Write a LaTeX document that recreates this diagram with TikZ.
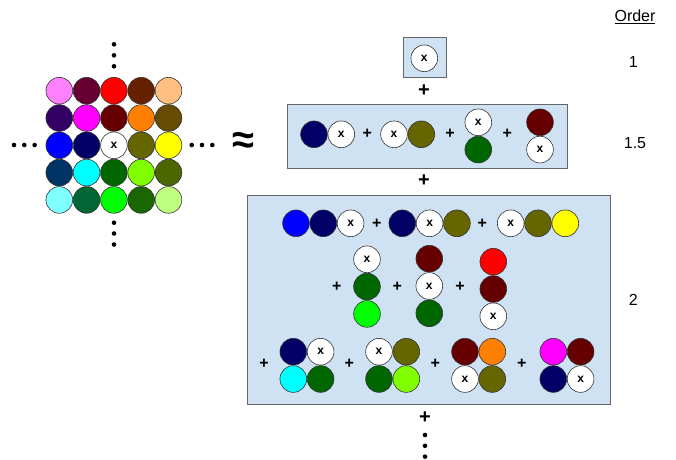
\documentclass[tikz,border=0pt]{standalone}
\usepackage{fontspec}
\setmainfont{Liberation Sans}
\usetikzlibrary{positioning}

\definecolor{bpink}{HTML}{FF80FF}
\definecolor{bplum}{HTML}{660033}
\definecolor{bred}{HTML}{FF0000}
\definecolor{brust}{HTML}{662200}
\definecolor{bpeach}{HTML}{FFBF80}
\definecolor{bindigo}{HTML}{330066}
\definecolor{bmagenta}{HTML}{FF00FF}
\definecolor{bmaroon}{HTML}{660000}
\definecolor{borange}{HTML}{FF8000}
\definecolor{bumber}{HTML}{664C00}
\definecolor{bblue}{HTML}{0000FF}
\definecolor{bnavy}{HTML}{000066}
\definecolor{bolive}{HTML}{666600}
\definecolor{byellow}{HTML}{FFFF00}
\definecolor{bsteel}{HTML}{003366}
\definecolor{bcyan}{HTML}{00FFFF}
\definecolor{bforest}{HTML}{006600}
\definecolor{blime}{HTML}{80FF00}
\definecolor{bmoss}{HTML}{4C6600}
\definecolor{baqua}{HTML}{80FFFF}
\definecolor{bteal}{HTML}{006633}
\definecolor{bgreen}{HTML}{00FF00}
\definecolor{bleaf}{HTML}{1A6600}
\definecolor{bmint}{HTML}{BFFF80}
\definecolor{boxblue}{HTML}{CFE2F3}

\begin{document}
\begin{tikzpicture}[x=1pt, y=-1pt, node distance=27.3pt,
  ball/.style={circle, draw=black!80, line width=0.6pt, minimum size=26.7pt, inner sep=0pt},
  xball/.style={ball, fill=white, font=\fontsize{12}{12}\selectfont\bfseries},
  orderbox/.style={draw=black!60, line width=0.8pt, fill=boxblue, inner sep=0pt},
  plus/.style={font=\fontsize{16}{16}\selectfont\bfseries, inner sep=0pt},
  bigplus/.style={plus, font=\fontsize{20}{20}\selectfont\bfseries},
  dot/.style={circle, fill=black, inner sep=0pt, minimum size=4.6pt},
  order/.style={font=\fontsize{16}{16}\selectfont}]
  \useasboundingbox (0,0) rectangle (676,459);

  % the lattice
  \node (g11) [ball, fill=bpink] at (59.3,90.7) {};
  \node (g12) [ball, fill=bplum, right of=g11] {};
  \node (g13) [ball, fill=bred, right of=g12] {};
  \node (g14) [ball, fill=brust, right of=g13] {};
  \node (g15) [ball, fill=bpeach, right of=g14] {};
  \node (g21) [ball, fill=bindigo, below of=g11] {};
  \node (g22) [ball, fill=bmagenta, right of=g21] {};
  \node (g23) [ball, fill=bmaroon, right of=g22] {};
  \node (g24) [ball, fill=borange, right of=g23] {};
  \node (g25) [ball, fill=bumber, right of=g24] {};
  \node (g31) [ball, fill=bblue, below of=g21] {};
  \node (g32) [ball, fill=bnavy, right of=g31] {};
  \node (g33) [xball, right of=g32] {x};
  \node (g34) [ball, fill=bolive, right of=g33] {};
  \node (g35) [ball, fill=byellow, right of=g34] {};
  \node (g41) [ball, fill=bsteel, below of=g31] {};
  \node (g42) [ball, fill=bcyan, right of=g41] {};
  \node (g43) [ball, fill=bforest, right of=g42] {};
  \node (g44) [ball, fill=blime, right of=g43] {};
  \node (g45) [ball, fill=bmoss, right of=g44] {};
  \node (g51) [ball, fill=baqua, below of=g41] {};
  \node (g52) [ball, fill=bteal, right of=g51] {};
  \node (g53) [ball, fill=bgreen, right of=g52] {};
  \node (g54) [ball, fill=bleaf, right of=g53] {};
  \node (g55) [ball, fill=bmint, right of=g54] {};

  \node (up1) [dot] at (114,44.3) {};
  \node (up2) [dot] at (114,55.3) {};
  \node (up3) [dot] at (114,66.3) {};
  \node (dn1) [dot] at (114,222.7) {};
  \node (dn2) [dot] at (114,233.5) {};
  \node (dn3) [dot] at (114,244.5) {};
  \node (lf1) [dot] at (14,145) {};
  \node (lf2) [dot] at (24.3,145) {};
  \node (lf3) [dot] at (34.6,145) {};
  \node (rt1) [dot] at (191.7,145) {};
  \node (rt2) [dot] at (202,145) {};
  \node (rt3) [dot] at (212.3,145) {};

  \node (approx) [font=\fontsize{40}{40}\selectfont\bfseries] at (243,143) {≈};

  % order 1
  \node (box1) [orderbox, minimum width=42.7pt, minimum height=40pt] at (424.7,57.3) {};
  \node (o1) [xball] at (424.3,58.3) {x};
  \node (p1) [bigplus] at (424,91) {+};

  % order 1.5
  \node (box15) [orderbox, minimum width=280pt, minimum height=64pt] at (427.3,136.3) {};
  \node (h1) [ball, fill=bnavy] at (314,134.3) {};
  \node (h2) [xball, right of=h1] {x};
  \node (hp1) [plus] at (367.3,134.3) {+};
  \node (h3) [xball] at (394,134.3) {x};
  \node (h4) [ball, fill=bolive, right of=h3] {};
  \node (hp2) [plus] at (450,134.3) {+};
  \node (h5) [xball] at (478.3,122.3) {x};
  \node (h6) [ball, fill=bforest, below of=h5] {};
  \node (hp3) [plus] at (507.3,134.3) {+};
  \node (h7) [ball, fill=bmaroon] at (540,122.3) {};
  \node (h8) [xball, below of=h7] {x};
  \node (p2) [bigplus] at (424,181) {+};

  % order 2
  \node (box2) [orderbox, minimum width=362.7pt, minimum height=209pt] at (428.7,299.5) {};
  \node (t1) [ball, fill=bblue] at (296,223.3) {};
  \node (t2) [ball, fill=bnavy, right of=t1] {};
  \node (t3) [xball, right of=t2] {x};
  \node (tp1) [plus] at (376.7,223.3) {+};
  \node (t4) [ball, fill=bnavy] at (402.3,223.3) {};
  \node (t5) [xball, right of=t4] {x};
  \node (t6) [ball, fill=bolive, right of=t5] {};
  \node (tp2) [plus] at (482.3,223.3) {+};
  \node (t7) [xball] at (510.7,223.3) {x};
  \node (t8) [ball, fill=bolive, right of=t7] {};
  \node (t9) [ball, fill=byellow, right of=t8] {};

  \node (tp3) [plus] at (336.7,286.7) {+};
  \node (v1) [xball] at (367,259.3) {x};
  \node (v2) [ball, fill=bforest, below of=v1] {};
  \node (v3) [ball, fill=bgreen, below of=v2] {};
  \node (tp4) [plus] at (397.3,286.7) {+};
  \node (v4) [ball, fill=bmaroon] at (429.3,258.7) {};
  \node (v5) [xball, below of=v4] {x};
  \node (v6) [ball, fill=bforest, below of=v5] {};
  \node (tp5) [plus] at (460,286.7) {+};
  \node (v7) [ball, fill=bred] at (493.3,261.7) {};
  \node (v8) [ball, fill=bmaroon, below of=v7] {};
  \node (v9) [xball, below of=v8] {x};

  \node (tp6) [plus] at (264,364) {+};
  \node (s1) [ball, fill=bnavy] at (293.3,351.7) {};
  \node (s2) [xball, right of=s1] {x};
  \node (s3) [ball, fill=bcyan, below of=s1] {};
  \node (s4) [ball, fill=bforest, right of=s3] {};
  \node (tp7) [plus] at (349.3,364) {+};
  \node (s5) [xball] at (379,351.7) {x};
  \node (s6) [ball, fill=bolive, right of=s5] {};
  \node (s7) [ball, fill=bforest, below of=s5] {};
  \node (s8) [ball, fill=blime, right of=s7] {};
  \node (tp8) [plus] at (435.3,364) {+};
  \node (s9) [ball, fill=bmaroon] at (465,351.7) {};
  \node (s10) [ball, fill=borange, right of=s9] {};
  \node (s11) [xball, below of=s9] {x};
  \node (s12) [ball, fill=bolive, right of=s11] {};
  \node (tp9) [plus] at (521.7,364) {+};
  \node (s13) [ball, fill=bmagenta] at (553.3,351.7) {};
  \node (s14) [ball, fill=bmaroon, right of=s13] {};
  \node (s15) [ball, fill=bnavy, below of=s13] {};
  \node (s16) [xball, right of=s15] {x};

  \node (p3) [bigplus] at (425,417.7) {+};
  \node (more1) [dot] at (425,435) {};
  \node (more2) [dot] at (425,445.8) {};
  \node (more3) [dot] at (425,456.6) {};

  % order labels
  \node (ordhead) [order] at (635,16.7) {\underline{Order}};
  \node (ord1) [order] at (633.3,61.7) {1};
  \node (ord15) [order] at (635,143) {1.5};
  \node (ord2) [order] at (633.3,300) {2};
\end{tikzpicture}
\end{document}
